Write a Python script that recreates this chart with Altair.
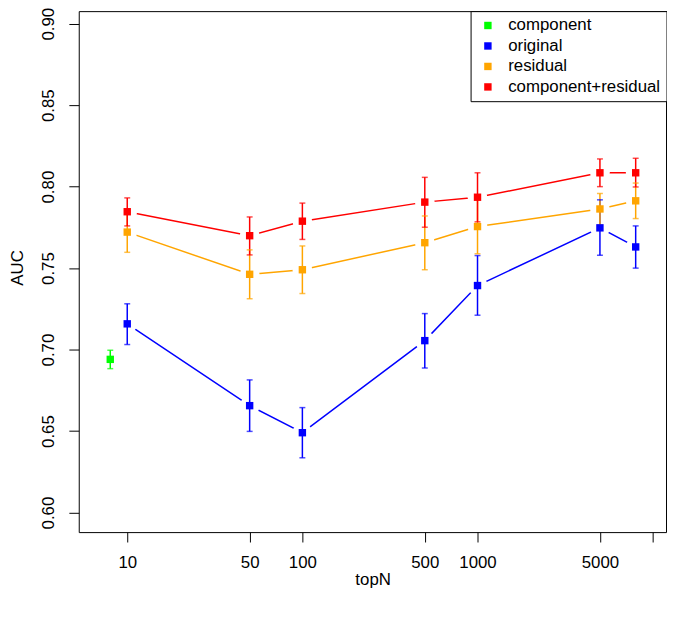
import altair as alt
import pandas as pd

series_names = ["component", "original", "residual", "component+residual"]
series_colors = ["#00FF00", "#0000FF", "#FFA500", "#FF0000"]

component_topN = [8]
component_auc = [0.6940]
component_lo = [0.6883]
component_hi = [0.6996]

topN = [10, 50, 100, 500, 1000, 5000, 8000]

original_auc = [0.7158, 0.6656, 0.6490, 0.7055, 0.7393, 0.7747, 0.7630]
original_lo = [0.7031, 0.6498, 0.6336, 0.6887, 0.7211, 0.7579, 0.7500]
original_hi = [0.7281, 0.6814, 0.6644, 0.7221, 0.7577, 0.7919, 0.7759]

residual_auc = [0.7721, 0.7462, 0.7490, 0.7656, 0.7755, 0.7863, 0.7913]
residual_lo = [0.7597, 0.7312, 0.7344, 0.7490, 0.7588, 0.7765, 0.7804]
residual_hi = [0.7845, 0.7612, 0.7636, 0.7820, 0.7922, 0.7958, 0.8022]

combined_auc = [0.7846, 0.7699, 0.7788, 0.7905, 0.7935, 0.8085, 0.8085]
combined_lo = [0.7759, 0.7581, 0.7676, 0.7751, 0.7784, 0.8000, 0.7998]
combined_hi = [0.7931, 0.7814, 0.7899, 0.8057, 0.8085, 0.8170, 0.8174]

x_ticks = [10, 50, 100, 500, 1000, 5000, 10000]
y_ticks = [0.60, 0.65, 0.70, 0.75, 0.80, 0.85, 0.90]

rows = []
def add(name, xs, a, lo, hi):
    for x, v, l, h in zip(xs, a, lo, hi):
        rows.append({"series": name, "legend_series": name, "topN": x, "auc": v, "lo": l, "hi": h})

add("component", component_topN, component_auc, component_lo, component_hi)
add("original", topN, original_auc, original_lo, original_hi)
add("residual", topN, residual_auc, residual_lo, residual_hi)
add("component+residual", topN, combined_auc, combined_lo, combined_hi)
df = pd.DataFrame(rows)

FONT = "Liberation Sans"
FS = 17

x_scale = alt.Scale(type="log", domain=[5.286, 11920], nice=False, zero=False)
y_scale = alt.Scale(domain=[0.588, 0.9077], nice=False, zero=False)

x_axis = alt.Axis(
    values=x_ticks, format="d", labelExpr="datum.value >= 10000 ? '' : datum.label",
    title="topN", grid=False, domain=False, tickSize=10, tickColor="black", tickWidth=1,
    labelFont=FONT, labelFontSize=FS, labelColor="black", labelPadding=13,
    labelBaseline="top", labelFlush=False, labelOverlap=False,
    titleFont=FONT, titleFontSize=FS, titleFontWeight="normal", titleColor="black",
    titleBaseline="alphabetic", titleY=53, titleX=297,
)
y_axis = alt.Axis(
    values=y_ticks, format=".2f", title="AUC", grid=False, domain=False,
    tickSize=10, tickColor="black", tickWidth=1,
    labelFont=FONT, labelFontSize=FS, labelColor="black", labelAngle=270,
    labelAlign="center", labelBaseline="alphabetic", labelPadding=16,
    labelFlush=False, labelOverlap=False,
    titleFont=FONT, titleFontSize=FS, titleFontWeight="normal", titleColor="black",
    titleAngle=270, titleAlign="center", titleBaseline="alphabetic",
    titleX=-57, titleY=259,
)

X = alt.X("topN:Q", scale=x_scale, axis=x_axis)

def Y(field):
    return alt.Y(f"{field}:Q", scale=y_scale, axis=y_axis, title="AUC")

legend_scale = alt.Scale(domain=series_names, range=series_colors)
# same mapping, listed in reverse so these scales are not merged with the legend's
nl_scale = alt.Scale(domain=series_names[::-1], range=series_colors[::-1])
stroke_nolegend = alt.Stroke("series:N", scale=nl_scale, legend=None)
color_nolegend = alt.Color("series:N", scale=nl_scale, legend=None)

base = alt.Chart(df)

lines = base.mark_line(strokeWidth=1.5).encode(x=X, y=Y("auc"), stroke=stroke_nolegend)

masks = base.mark_point(shape="circle", filled=True, size=400, color="white", opacity=1).encode(
    x=X, y=Y("auc")
)

bars = base.mark_rule(strokeWidth=1.5).encode(x=X, y=Y("lo"), y2="hi:Q", stroke=stroke_nolegend)
caps_lo = base.mark_tick(orient="horizontal", size=6, thickness=1.5).encode(
    x=X, y=Y("lo"), color=color_nolegend
)
caps_hi = base.mark_tick(orient="horizontal", size=6, thickness=1.5).encode(
    x=X, y=Y("hi"), color=color_nolegend
)

points = base.mark_square(size=56, opacity=1, filled=True).encode(
    x=X, y=Y("auc"),
    fill=alt.Fill(
        "legend_series:N", scale=legend_scale,
        legend=alt.Legend(
            title=None, orient="top-right", offset=0,
            strokeColor="black", fillColor="white",
            padding=6, symbolType="square", symbolSize=56, symbolStrokeWidth=0,
            symbolOpacity=1,
            symbolOffset=3, labelOffset=12, rowPadding=2.7,
            labelFont=FONT, labelFontSize=FS, labelColor="black",
        ),
    ),
)

chart = alt.layer(lines, masks, bars, caps_lo, caps_hi, points).properties(
    width=593.5, height=526.5,
    autosize=alt.AutoSizeParams(type="none"),
    padding={"left": 71.5, "top": 0, "right": 1, "bottom": 70},
    background="white",
).configure_view(stroke="black", strokeWidth=1)

chart.save("out.html", embed_options={"renderer": "svg", "actions": False})
